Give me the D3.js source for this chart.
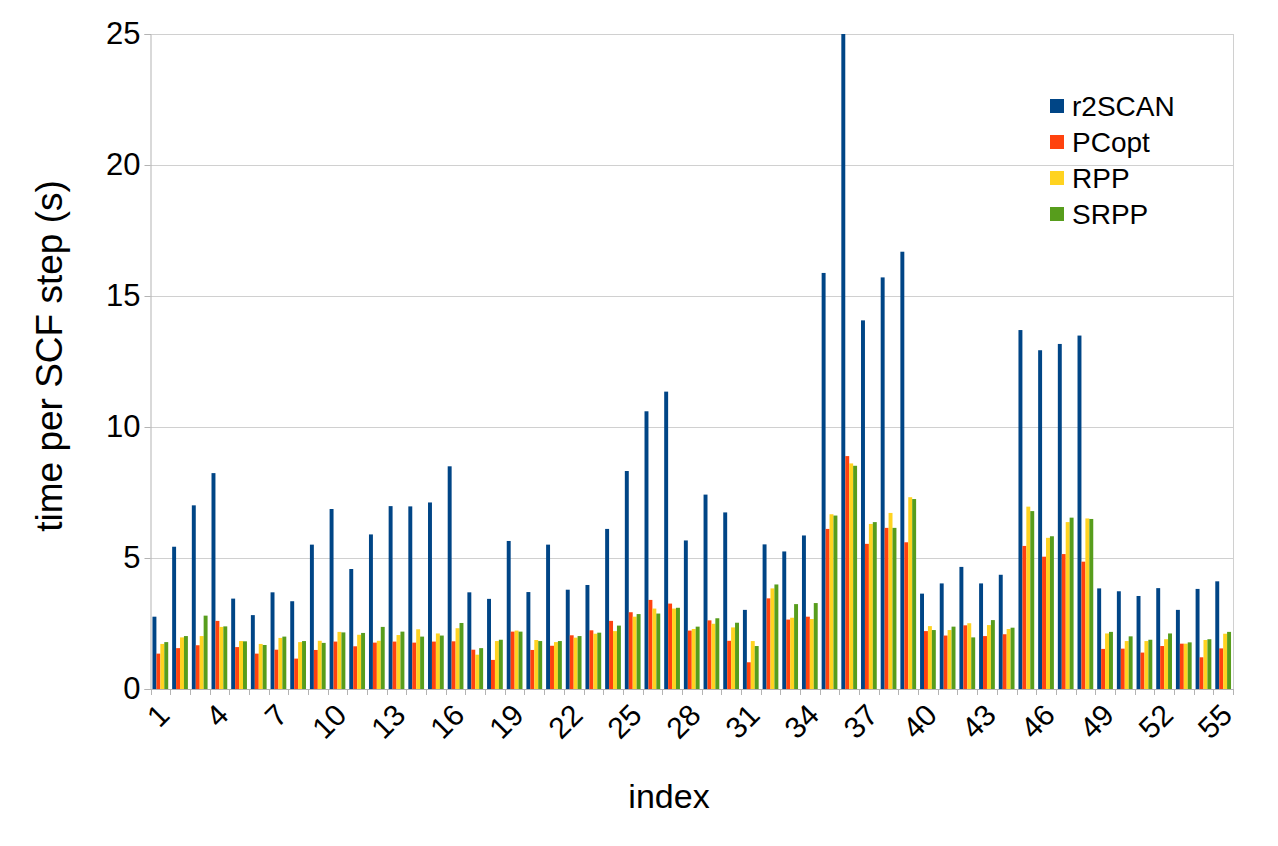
<!DOCTYPE html>
<html>
<head>
<meta charset="utf-8">
<script src="https://cdn.jsdelivr.net/npm/d3@7"></script>
<style>
  html, body { margin: 0; padding: 0; background: #fff; }
  svg { display: block; font-family: "Liberation Sans", Arial, sans-serif; }
</style>
</head>
<body>
<svg id="chart" width="1278" height="846"></svg>
<script>
const indices = d3.range(1, 56);
const seriesNames = ["r2SCAN", "PCopt", "RPP", "SRPP"];
const seriesColors = ["#004586", "#ff420e", "#ffd320", "#579d1c"];

const r2SCAN = [2.76, 5.43, 7.01, 8.24, 3.45, 2.82, 3.69, 3.35, 5.51, 6.87,
  4.58, 5.90, 6.98, 6.97, 7.12, 8.50, 3.69, 3.44, 5.65, 3.70,
  5.51, 3.79, 3.97, 6.11, 8.32, 10.60, 11.35, 5.67, 7.42, 6.74,
  3.02, 5.52, 5.25, 5.86, 15.88, 25.0, 14.07, 15.71, 16.69, 3.64,
  4.03, 4.66, 4.03, 4.36, 13.70, 12.93, 13.17, 13.49, 3.84, 3.73,
  3.55, 3.85, 3.02, 3.82, 4.11];
const PCopt = [1.35, 1.56, 1.67, 2.60, 1.60, 1.35, 1.50, 1.16, 1.49, 1.81,
  1.63, 1.77, 1.81, 1.77, 1.81, 1.82, 1.50, 1.11, 2.19, 1.49,
  1.65, 2.05, 2.24, 2.60, 2.93, 3.40, 3.26, 2.23, 2.62, 1.84,
  1.02, 3.46, 2.65, 2.76, 6.11, 8.89, 5.54, 6.15, 5.60, 2.21,
  2.04, 2.43, 2.02, 2.09, 5.46, 5.05, 5.15, 4.86, 1.53, 1.54,
  1.39, 1.64, 1.73, 1.21, 1.55];
const RPP = [1.72, 1.97, 2.02, 2.37, 1.83, 1.72, 1.95, 1.79, 1.84, 2.18,
  2.07, 1.84, 2.06, 2.28, 2.12, 2.32, 1.31, 1.83, 2.23, 1.87,
  1.79, 1.96, 2.11, 2.21, 2.76, 3.07, 3.07, 2.29, 2.49, 2.35,
  1.83, 3.84, 2.72, 2.67, 6.67, 8.61, 6.30, 6.72, 7.32, 2.40,
  2.25, 2.51, 2.44, 2.29, 6.96, 5.77, 6.37, 6.51, 2.12, 1.83,
  1.83, 1.90, 1.73, 1.87, 2.11];
const SRPP = [1.79, 2.02, 2.80, 2.39, 1.82, 1.68, 2.00, 1.83, 1.76, 2.16,
  2.14, 2.37, 2.19, 2.00, 2.04, 2.52, 1.56, 1.88, 2.19, 1.83,
  1.83, 2.02, 2.15, 2.42, 2.86, 2.88, 3.10, 2.38, 2.70, 2.53,
  1.64, 3.99, 3.24, 3.28, 6.62, 8.52, 6.37, 6.15, 7.25, 2.25,
  2.38, 1.97, 2.63, 2.34, 6.79, 5.83, 6.54, 6.49, 2.18, 2.01,
  1.88, 2.12, 1.78, 1.90, 2.18];
const yTicks = [0, 5, 10, 15, 20, 25];
const xTickLabels = indices.filter(i => (i - 1) % 3 === 0);

(function () {
const allSeries = [r2SCAN, PCopt, RPP, SRPP];
const rows = indices.map((idx, i) => ({ idx, vals: allSeries.map(s => s[i]) }));

const svg = d3.select("#chart");
const pL = 150.5, pR = 1233, pT = 34, pB = 689;

const x0 = d3.scaleBand().domain(indices).range([pL, pR]).paddingInner(0.2).paddingOuter(0.1);
const x1 = d3.scaleBand().domain(seriesNames).range([0, x0.bandwidth()]).padding(0);
const y = d3.scaleLinear().domain([0, 25]).range([pB, pT]);

const axisColor = "#b3b3b3";

svg.append("g").selectAll("line").data(yTicks).join("line")
  .attr("x1", pL).attr("x2", pR)
  .attr("y1", d => Math.round(y(d)) + 0.5).attr("y2", d => Math.round(y(d)) + 0.5)
  .attr("stroke", "#d0d0d0").attr("stroke-width", 1);

svg.append("line").attr("x1", pR + 0.5).attr("x2", pR + 0.5)
  .attr("y1", pT).attr("y2", pB).attr("stroke", "#d0d0d0");

svg.append("defs").append("clipPath").attr("id", "plotclip")
  .append("rect").attr("x", pL).attr("y", pT).attr("width", pR - pL).attr("height", pB - pT);

const groups = svg.append("g").attr("clip-path", "url(#plotclip)")
  .selectAll("g").data(rows).join("g")
  .attr("transform", d => `translate(${x0(d.idx)},0)`);
groups.selectAll("rect").data(d => d.vals.map((v, k) => ({ v, k })))
  .join("rect")
  .attr("x", d => x1(seriesNames[d.k]))
  .attr("width", x1.bandwidth())
  .attr("y", d => y(d.v))
  .attr("height", d => y(0) - y(d.v))
  .attr("fill", d => seriesColors[d.k]);

const yAxis = d3.axisLeft(y).tickValues(yTicks).tickSize(6).tickPadding(4);
const gy = svg.append("g").attr("transform", `translate(${pL},0)`).call(yAxis);
gy.select(".domain").attr("stroke", axisColor);
gy.selectAll(".tick line").attr("stroke", axisColor);
gy.selectAll(".tick text").attr("font-size", 31).attr("fill", "#000")
  .attr("font-family", "Liberation Sans, Arial, sans-serif");

const step = x0.step();
const boundaries = d3.range(0, 56).map(i => pL + i * step);
const gx = svg.append("g");
gx.append("line").attr("x1", pL).attr("x2", pR)
  .attr("y1", pB + 0.5).attr("y2", pB + 0.5).attr("stroke", axisColor);
gx.selectAll("line.tk").data(boundaries).join("line").attr("class", "tk")
  .attr("x1", d => Math.round(d) + 0.5).attr("x2", d => Math.round(d) + 0.5)
  .attr("y1", pB).attr("y2", pB + 6).attr("stroke", axisColor);
gx.selectAll("text").data(xTickLabels).join("text")
  .attr("transform", d => `translate(${x0(d) + x0.bandwidth() / 2 - 4},${pB + 13}) rotate(-45)`)
  .attr("text-anchor", "end")
  .attr("dy", "0.7em")
  .attr("font-size", 30)
  .attr("fill", "#000")
  .text(d => d);

svg.append("text")
  .attr("transform", `translate(62,356) rotate(-90)`)
  .attr("text-anchor", "middle")
  .attr("font-size", 37)
  .text("time per SCF step (s)");
svg.append("text")
  .attr("x", 669).attr("y", 808)
  .attr("text-anchor", "middle")
  .attr("font-size", 34)
  .text("index");

const legend = svg.append("g").attr("transform", "translate(1050,106)");
const li = legend.selectAll("g").data(seriesNames).join("g")
  .attr("transform", (d, i) => `translate(0,${i * 36})`);
li.append("rect").attr("x", 0).attr("y", -7).attr("width", 14).attr("height", 14)
  .attr("fill", (d, i) => seriesColors[i]);
li.append("text").attr("x", 22).attr("y", 0).attr("dy", "0.35em")
  .attr("font-size", 28).text(d => d);
})();
</script>
</body>
</html>
